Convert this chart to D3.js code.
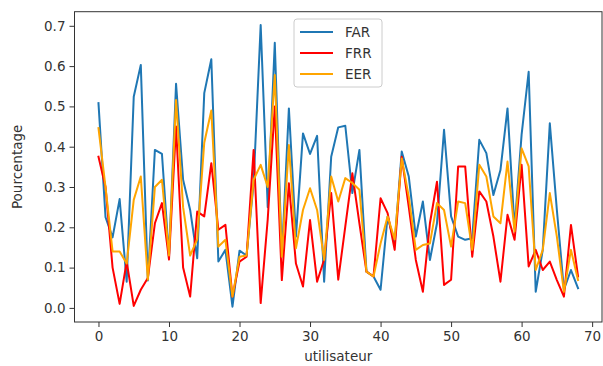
<!DOCTYPE html>
<html><head><meta charset="utf-8">
<script src="https://cdn.jsdelivr.net/npm/d3@7"></script>
<style>body{margin:0;background:#fff}svg{display:block}</style>
</head><body><svg id="c" width="603" height="366"></svg>
<script>
const users = d3.range(69);
const FAR = [0.508,0.225,0.175,0.27,0.065,0.524,0.603,0.068,0.392,0.382,
0.127,0.556,0.318,0.243,0.123,0.533,0.617,0.115,0.144,0.003,
0.142,0.13,0.31,0.702,0.25,0.658,0.127,0.495,0.177,0.433,
0.382,0.427,0.065,0.375,0.448,0.452,0.285,0.392,0.09,0.078,
0.045,0.227,0.16,0.388,0.326,0.177,0.264,0.119,0.21,0.442,
0.227,0.177,0.169,0.173,0.417,0.384,0.28,0.342,0.495,0.198,
0.43,0.586,0.04,0.144,0.458,0.243,0.045,0.094,0.049];
const FRR = [0.375,0.30,0.10,0.01,0.115,0.005,0.045,0.074,0.21,0.26,
0.12,0.45,0.10,0.028,0.239,0.227,0.359,0.194,0.206,0.028,
0.115,0.127,0.392,0.012,0.22,0.50,0.069,0.309,0.11,0.053,
0.218,0.065,0.12,0.285,0.07,0.202,0.334,0.21,0.09,0.078,
0.272,0.235,0.144,0.375,0.251,0.119,0.04,0.21,0.313,0.057,
0.07,0.351,0.351,0.127,0.289,0.264,0.177,0.065,0.231,0.169,
0.355,0.103,0.144,0.094,0.115,0.069,0.028,0.206,0.078];
const EER = [0.446,0.30,0.14,0.14,0.11,0.268,0.326,0.07,0.30,0.318,
0.13,0.516,0.25,0.13,0.17,0.41,0.49,0.152,0.169,0.028,
0.127,0.13,0.318,0.355,0.30,0.578,0.127,0.404,0.148,0.243,
0.297,0.243,0.119,0.326,0.264,0.322,0.31,0.293,0.09,0.078,
0.16,0.227,0.17,0.371,0.276,0.144,0.156,0.16,0.26,0.243,
0.152,0.264,0.26,0.144,0.355,0.326,0.227,0.21,0.363,0.19,
0.396,0.351,0.094,0.144,0.285,0.177,0.04,0.144,0.069];
const seriesNames = ["FAR","FRR","EER"];
const seriesColors = ["#1f77b4","#ff0000","#ffa500"];
const xTicks = [0,10,20,30,40,50,60,70];
const yTicks = [0.0,0.1,0.2,0.3,0.4,0.5,0.6,0.7];

const svg = d3.select("#c");
const L=74.5, R=602, T=11.7, B=322;
const x = d3.scaleLinear().domain([-3.4,71.4]).range([L,R]);
const y = d3.scaleLinear().domain([-0.035,0.735]).range([B,T]);
const font = "DejaVu Sans, sans-serif";
const txt = "#333";

const series = [FAR,FRR,EER];
const line = d3.line().x((d,i)=>x(users[i])).y(d=>y(d));
series.forEach((s,k)=>{
  svg.append("path").attr("d",line(s)).attr("fill","none")
    .attr("stroke",seriesColors[k]).attr("stroke-width",2).attr("stroke-linejoin","round").attr("stroke-linecap","square");
});

const xa = svg.append("g").attr("transform",`translate(0,${B})`)
  .call(d3.axisBottom(x).tickValues(xTicks).tickFormat(d3.format("d")).tickSizeOuter(0).tickSize(5).tickPadding(4));
const ya = svg.append("g").attr("transform",`translate(${L},0)`)
  .call(d3.axisLeft(y).tickValues(yTicks).tickFormat(d3.format(".1f")).tickSizeOuter(0).tickSize(5).tickPadding(4));
[xa,ya].forEach(a=>{
  a.select(".domain").remove();
  a.selectAll("line").attr("stroke",txt).attr("stroke-width",1);
  a.selectAll("text").attr("fill",txt).style("font-family",font).style("font-size","13.5px");
});
svg.append("rect").attr("x",L).attr("y",T).attr("width",R-L).attr("height",B-T)
  .attr("fill","none").attr("stroke",txt).attr("stroke-width",1);

svg.append("text").attr("x",(L+R)/2).attr("y",361).attr("text-anchor","middle")
  .attr("fill",txt).style("font-family",font).style("font-size","13.5px").text("utilisateur");
svg.append("text").attr("transform",`translate(22,${(T+B)/2}) rotate(-90)`).attr("text-anchor","middle")
  .attr("fill",txt).style("font-family",font).style("font-size","13.5px").text("Pourcentage");

const lg = svg.append("g").attr("transform","translate(294,19)");
lg.append("rect").attr("width",88).attr("height",68).attr("rx",3).attr("fill","#fff").attr("fill-opacity",0.8)
  .attr("stroke","#ccc").attr("stroke-width",1);
seriesNames.forEach((n,k)=>{
  const yy = 13 + k*21;
  lg.append("line").attr("x1",6).attr("x2",39).attr("y1",yy).attr("y2",yy).attr("stroke",seriesColors[k]).attr("stroke-width",2);
  lg.append("text").attr("x",51).attr("y",yy).attr("dy","0.35em").attr("fill",txt)
    .style("font-family",font).style("font-size","13.5px").text(n);
});
</script></body></html>
